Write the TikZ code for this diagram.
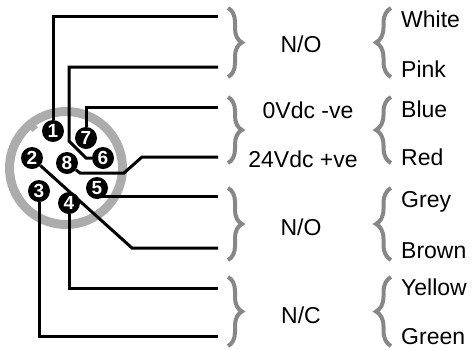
\documentclass[tikz,border=0pt]{standalone}
\usepackage{fontspec}
\setmainfont{Liberation Sans}
\usepackage{xcolor}
\usetikzlibrary{decorations.pathreplacing}

\definecolor{ringgray}{RGB}{172,172,172}
\definecolor{bracegray}{RGB}{135,135,135}

\pgfdeclarelayer{bg}
\pgfsetlayers{bg,main}

\begin{document}
\begin{tikzpicture}[x=1pt, y=-1pt,
    contact/.style={circle, fill=black, text=white, inner sep=0pt, minimum size=22pt,
        font=\fontsize{19}{19}\selectfont\bfseries},
    wire/.style={line width=3pt, black},
    closebrace/.style={decorate, decoration={brace, amplitude=14pt}, line width=4pt, bracegray},
    openbrace/.style={decorate, decoration={brace, amplitude=15pt}, line width=4pt, bracegray},
    midtext/.style={anchor=base, inner sep=0pt, font=\fontsize{23}{23}\selectfont},
    wiretext/.style={anchor=base west, inner sep=0pt, font=\fontsize{23}{23}\selectfont}]
    \useasboundingbox (0,0) rectangle (473,349);

    % Wire ends
    \foreach \n/\y in {1/16, 2/67, 3/107, 4/157, 5/196, 6/248, 7/288, 8/336} {
        \coordinate (e\n) at (218,\y);
    }

    % Pins
    \node[contact] (p1) at (53,131) {1};
    \node[contact] (p7) at (86,138) {7};
    \node[contact] (p6) at (103,158) {6};
    \node[contact] (p8) at (67,163) {8};
    \node[contact] (p2) at (32,158) {2};
    \node[contact] (p5) at (97,188) {5};
    \node[contact] (p3) at (39,191) {3};
    \node[contact] (p4) at (69,203) {4};

    \begin{pgfonlayer}{bg}
        % Connector body with key
        \draw[ringgray, line width=9pt] (66,168) circle (56.5);
        \node[fill=ringgray, minimum size=7pt, inner sep=0pt, rotate=40] (notch) at (33,127) {};

        % Wires from pins to the terminals
        \draw[wire] (p1) |- (e1);
        \draw[wire] (p6) -- (86,158) -- (69,141) |- (e2);
        \draw[wire] (p7) |- (e3);
        \draw[wire] (p8) -- (80,173) -- (124,173) -- (142,157) -- (e4);
        \draw[wire] (p5) |- (e5);
        \draw[wire] (p2) -- (132,248) -- (e6);
        \draw[wire] (p4) |- (e7);
        \draw[wire] (p3) |- (e8);
    \end{pgfonlayer}

    % Braces
    \foreach \a/\b in {8/77, 97/163, 188/260, 277/346} {
        \draw[closebrace] (228,\a) -- (228,\b);
        \draw[openbrace] (391,\b) -- (391,\a);
    }

    % Functions
    \node[midtext] (no1) at (301,52) {N/O};
    \node[midtext] (zero) at (308,118) {0Vdc -ve};
    \node[midtext] (plus) at (303,167) {24Vdc +ve};
    \node[midtext] (no2) at (301,235) {N/O};
    \node[midtext] (nc) at (301,323) {N/C};

    % Colours
    \node[wiretext] (white) at (401,27) {White};
    \node[wiretext] (pink) at (401,77) {Pink};
    \node[wiretext] (blue) at (401,117) {Blue};
    \node[wiretext] (red) at (401,165) {Red};
    \node[wiretext] (grey) at (401,207) {Grey};
    \node[wiretext] (brown) at (401,258) {Brown};
    \node[wiretext] (yellow) at (401,295) {Yellow};
    \node[wiretext] (green) at (401,344) {Green};
\end{tikzpicture}
\end{document}
